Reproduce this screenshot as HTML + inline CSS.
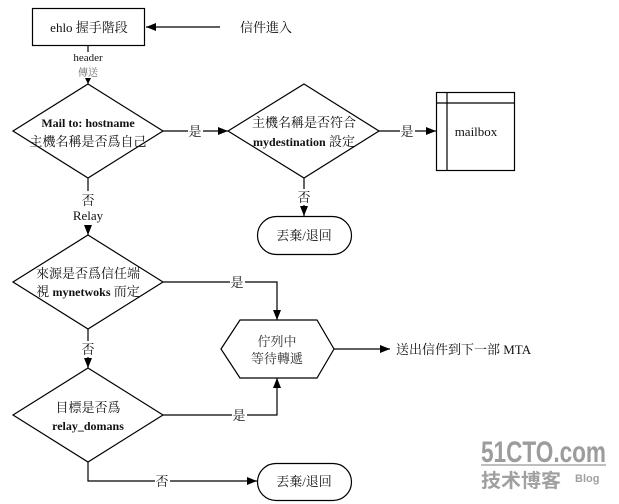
<!DOCTYPE html>
<html><head><meta charset="utf-8"><style>
html,body{margin:0;padding:0;background:#fff;}
svg{display:block;}
text{font-family:"Liberation Serif","Noto Serif CJK SC",serif;fill:#111;}
.b{font-weight:bold;}
.wm{fill:#9c9c9c;}
</style></head><body>
<svg width="619" height="504" viewBox="0 0 619 504" xmlns="http://www.w3.org/2000/svg">
<defs>
<marker id="a" markerWidth="10" markerHeight="8" refX="10" refY="4" orient="auto" markerUnits="userSpaceOnUse">
<path d="M0,0 L10,4 L0,8 z" fill="#000"/>
</marker>
<marker id="s" markerWidth="6" markerHeight="6" refX="6" refY="3" orient="auto" markerUnits="userSpaceOnUse">
<path d="M0,0 L6,3 L0,6 z" fill="#000"/>
</marker>
</defs>
<g stroke="#000" stroke-width="1.2" fill="none">
<rect x="32.5" y="8.5" width="112" height="37" fill="#fff"/>
<line x1="220" y1="27" x2="146" y2="27" marker-end="url(#a)"/>
<line x1="88" y1="46" x2="88" y2="52"/>
<line x1="88" y1="78" x2="88" y2="84" marker-end="url(#s)"/>
<polygon points="88,84 163,131 88,178 13,131" fill="#fff"/>
<line x1="163" y1="131" x2="188" y2="131"/>
<line x1="203" y1="131" x2="228" y2="131" marker-end="url(#a)"/>
<polygon points="304,84 379,131 304,178 228,131" fill="#fff"/>
<line x1="379" y1="131" x2="400" y2="131"/>
<line x1="415" y1="131" x2="436" y2="131" marker-end="url(#a)"/>
<rect x="436.5" y="92.5" width="78" height="78" fill="#fff"/>
<line x1="447" y1="92" x2="447" y2="171"/>
<line x1="436" y1="103" x2="515" y2="103"/>
<line x1="304" y1="178" x2="304" y2="189"/>
<line x1="304" y1="205" x2="304" y2="216" marker-end="url(#a)"/>
<rect x="257.5" y="216.5" width="94" height="38" rx="19" ry="19" fill="#fff"/>
<line x1="88" y1="178" x2="88" y2="191"/>
<line x1="88" y1="225" x2="88" y2="235" marker-end="url(#a)"/>
<polygon points="88,235 163,282 88,329 13,282" fill="#fff"/>
<polyline points="163,282 230,282"/>
<polyline points="245,282 277,282 277,320" marker-end="url(#a)"/>
<line x1="88" y1="329" x2="88" y2="341"/>
<line x1="88" y1="357" x2="88" y2="368" marker-end="url(#a)"/>
<polygon points="88,368 163,415 88,462 13,415" fill="#fff"/>
<polyline points="163,415 232,415"/>
<polyline points="247,415 277,415 277,378" marker-end="url(#a)"/>
<polygon points="221,349 240,320 317,320 334,349 317,378 240,378" fill="#fff"/>
<line x1="334" y1="349" x2="390" y2="349" marker-end="url(#a)"/>
<polyline points="88,462 88,481 155,481"/>
<line x1="170" y1="481" x2="257" y2="481" marker-end="url(#a)"/>
<rect x="257.5" y="463.5" width="94" height="37" rx="18.5" ry="18.5" fill="#fff"/>
</g>
<text x="89" y="32" font-size="13" text-anchor="middle">ehlo 握手階段</text>
<text x="240" y="32" font-size="13">信件進入</text>
<text x="88" y="61" font-size="11" text-anchor="middle">header</text>
<text x="88" y="76" font-size="10" text-anchor="middle" style="fill:#666">傳送</text>
<text x="88" y="127" font-size="12" class="b" text-anchor="middle">Mail to: hostname</text>
<text x="88" y="146" font-size="13" text-anchor="middle">主機名稱是否爲自己</text>
<text x="195" y="136" font-size="13" text-anchor="middle">是</text>
<text x="304" y="127" font-size="13" text-anchor="middle">主機名稱是否符合</text>
<text x="304" y="146" font-size="13" text-anchor="middle"><tspan class="b" font-size="12">mydestination</tspan> 設定</text>
<text x="407" y="136" font-size="13" text-anchor="middle">是</text>
<text x="476" y="136" font-size="13" text-anchor="middle">mailbox</text>
<text x="304" y="202" font-size="13" text-anchor="middle">否</text>
<text x="304" y="240" font-size="13" text-anchor="middle">丟棄/退回</text>
<text x="88" y="205" font-size="13" text-anchor="middle">否</text>
<text x="88" y="220" font-size="13" text-anchor="middle">Relay</text>
<text x="88" y="278" font-size="13" text-anchor="middle">來源是否爲信任端</text>
<text x="88" y="296" font-size="13" text-anchor="middle">視 <tspan class="b" font-size="12">mynetwoks</tspan> 而定</text>
<text x="237" y="287" font-size="13" text-anchor="middle">是</text>
<text x="88" y="354" font-size="13" text-anchor="middle">否</text>
<text x="88" y="412" font-size="13" text-anchor="middle">目標是否爲</text>
<text x="88" y="430" font-size="12" class="b" text-anchor="middle">relay_domans</text>
<text x="239" y="420" font-size="13" text-anchor="middle">是</text>
<text x="277" y="346" font-size="13" text-anchor="middle" style="fill:#333">佇列中</text>
<text x="277" y="363" font-size="13" text-anchor="middle" style="fill:#333">等待轉遞</text>
<text x="396" y="354" font-size="13">送出信件到下一部 MTA</text>
<text x="162" y="486" font-size="13" text-anchor="middle">否</text>
<text x="304" y="486" font-size="13" text-anchor="middle">丟棄/退回</text>
<text class="wm" x="481" y="462" font-size="30" font-weight="bold" textLength="125" lengthAdjust="spacingAndGlyphs" style="font-family:'Liberation Sans',sans-serif;fill:#9c9c9c">51CTO.com</text>
<line x1="481" y1="465" x2="606" y2="465" stroke="#aaa" stroke-width="1.5"/>
<text class="wm" x="481" y="487" font-size="19" font-weight="bold" textLength="80" lengthAdjust="spacingAndGlyphs" style="font-family:'Noto Sans CJK SC',sans-serif;fill:#a0a0a0">技术博客</text>
<text class="wm" x="575" y="482" font-size="11" font-weight="bold" style="font-family:'Liberation Sans',sans-serif;fill:#a0a0a0">Blog</text>
</svg>
</body></html>
